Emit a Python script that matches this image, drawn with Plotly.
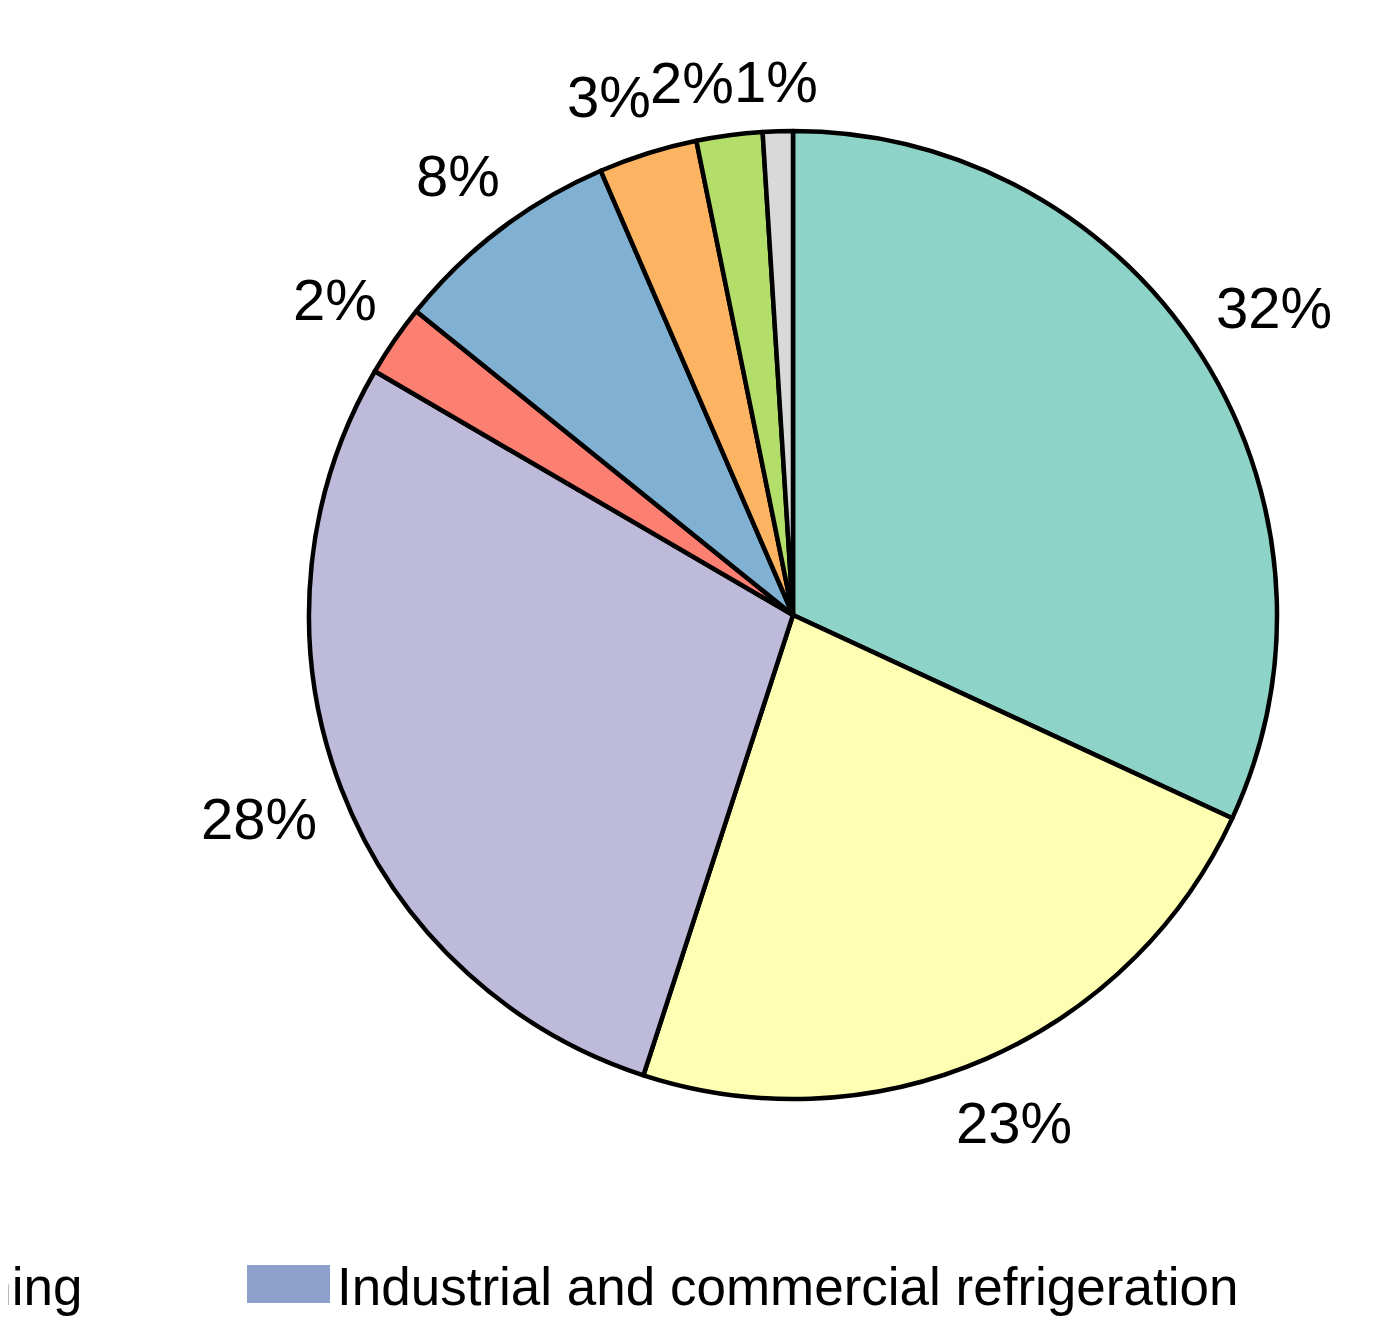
import math
import plotly.graph_objects as go

# slice shares (%), clockwise from 12 o'clock
labels = ["Slice 1", "Slice 2", "Slice 3", "Slice 4", "Slice 5", "Slice 6", "Slice 7", "Slice 8"]
values = [31.9, 23.1, 28.4, 2.4, 7.7, 3.3, 2.2, 1.0]
colors = ["#8dd3c7", "#ffffb3", "#bebada", "#fb8072", "#80b1d3", "#fdb462", "#b3de69", "#d9d9d9"]

# legend fragment visible at the bottom of the crop
legend_names = ["Air conditioning", "Industrial and commercial refrigeration"]
legend_color = "#8da0cb"

FONT = "Liberation Sans, Arial, sans-serif"
LABEL_SIZE = 58

# the page body has an 8px margin, so shift everything up/left by that much
OFF = 8
FW, FH = 1379 - OFF, 1318 - OFF


def px(x):
    return (x - OFF) / FW


def py(y):
    return 1 - (y - OFF) / FH


cx, cy, r = 793, 615, 484

fig = go.Figure(go.Pie(
    labels=labels,
    values=values,
    sort=False,
    direction="clockwise",
    rotation=0,
    marker=dict(colors=colors, line=dict(color="black", width=4.5)),
    textinfo="none",
    showlegend=False,
    hoverinfo="label+value",
    domain=dict(x=[px(cx - r), px(cx + r)], y=[py(cy + r), py(cy - r)]),
))

# percent labels outside the pie, placed at each slice's mid angle
total = sum(values)
texts, pos, widths = [], [], []
cum = 0
for v in values:
    mid = (cum + v / 2) / total * 2 * math.pi
    cum += v
    t = f"{round(v / total * 100)}%"
    w = (len(t) - 1) * 0.556 * LABEL_SIZE + 0.889 * LABEL_SIZE
    h = 0.8 * LABEL_SIZE
    s, c = math.sin(mid), math.cos(mid)
    d = r + 25 + abs(s) * w / 2 + abs(c) * h / 2
    texts.append(t)
    widths.append(w)
    pos.append([cx + s * d, cy - c * d])

# push crowded labels near the top to the left so they don't overlap
for i in range(len(pos) - 2, -1, -1):
    x0, y0 = pos[i]
    x1, y1 = pos[i + 1]
    if abs(y0 - y1) < 0.8 * LABEL_SIZE and x0 < x1:
        limit = x1 - widths[i + 1] / 2 - widths[i] / 2
        if x0 > limit:
            pos[i][0] = limit

for t, (x, y) in zip(texts, pos):
    fig.add_annotation(x=px(x), y=py(y), xref="paper", yref="paper", text=t,
                       xanchor="center", yanchor="middle", showarrow=False,
                       font=dict(size=LABEL_SIZE, color="black", family=FONT))

# legend drawn by hand because the original is cut off at the left edge
fig.add_annotation(x=px(84), y=py(1286), xref="paper", yref="paper", text=legend_names[0],
                   xanchor="right", yanchor="middle", showarrow=False,
                   font=dict(size=53, color="black", family=FONT))
fig.add_shape(type="rect", xref="paper", yref="paper",
              x0=px(247), x1=px(330), y0=py(1303), y1=py(1265),
              fillcolor=legend_color, line=dict(width=0))
fig.add_annotation(x=px(335), y=py(1286), xref="paper", yref="paper", text=legend_names[1],
                   xanchor="left", yanchor="middle", showarrow=False,
                   font=dict(size=53, color="black", family=FONT))

fig.update_layout(
    width=FW, height=FH,
    margin=dict(l=0, r=0, t=0, b=0),
    paper_bgcolor="white",
    plot_bgcolor="white",
)

fig.write_html("out.html")
